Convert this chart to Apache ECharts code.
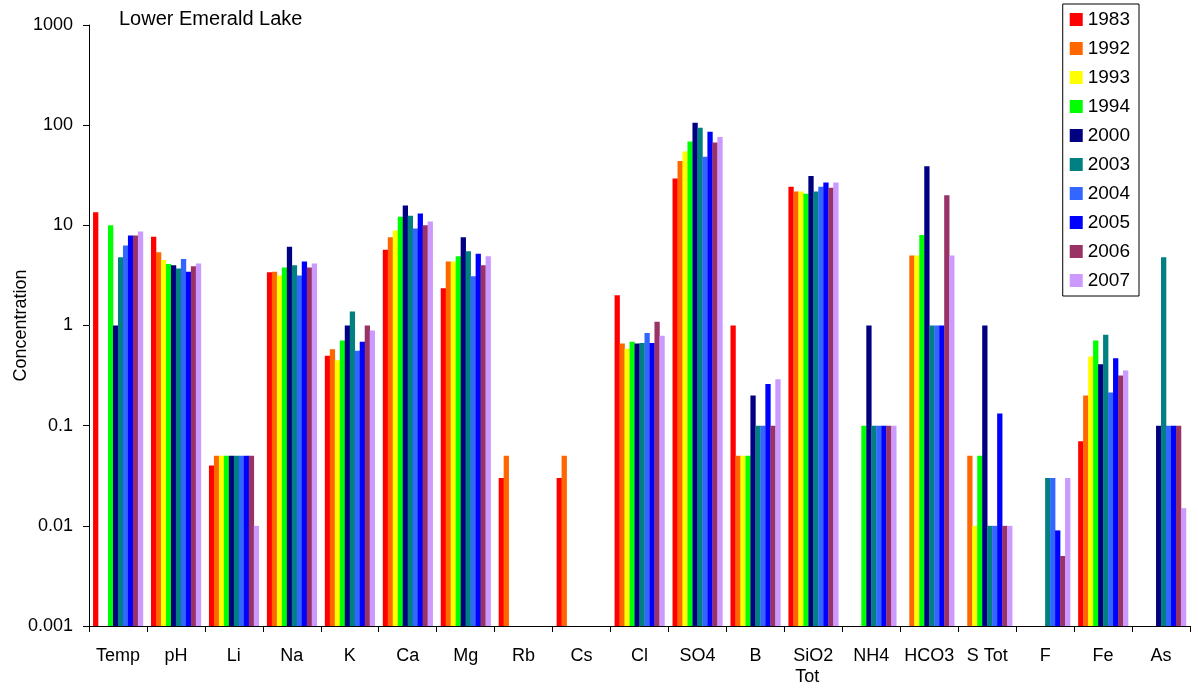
<!DOCTYPE html>
<html><head><meta charset="utf-8">
<script src="https://cdn.jsdelivr.net/npm/echarts@6/dist/echarts.min.js"></script>
<style>html,body{margin:0;padding:0;background:#fff}#c{width:1198px;height:691px}</style>
</head><body><div id="c"></div>
<script>
const categories = ['Temp','pH','Li','Na','K','Ca','Mg','Rb','Cs','Cl','SO4','B','SiO2\nTot','NH4','HCO3','S Tot','F','Fe','As'];
const years = ['1983','1992','1993','1994','2000','2003','2004','2005','2006','2007'];
const colors = ['#FF0000','#FF6600','#FFFF00','#00FF00','#000080','#008080','#3366FF','#0000FF','#993366','#CC99FF'];
const yTicks = [0.001,0.01,0.1,1,10,100,1000];
// values per year, in category order (null = no bar)
const v1983 = [13.5,7.7,0.04,3.4,0.5,5.7,2.35,0.03,0.03,2.0,29.4,1.0,24.3,null,null,null,null,0.07,null];
const v1992 = [null,5.4,0.05,3.45,0.58,7.6,4.35,0.05,0.05,0.66,44,0.05,21.8,null,5,0.05,null,0.2,null];
const v1993 = [null,4.5,0.05,3.15,0.45,8.9,4.35,null,null,0.585,54.5,0.05,21.8,null,5,0.01,null,0.49,null];
const v1994 = [10,4.1,0.05,3.8,0.71,12.2,4.9,null,null,0.69,68.6,0.05,20.7,0.1,8,0.05,null,0.71,null];
const v2000 = [1.0,4.0,0.05,6.1,1.0,15.8,7.6,null,null,0.66,106,0.2,31,1.0,39,1.0,null,0.41,0.1];
const v2003 = [4.8,3.7,0.05,4.0,1.38,12.5,5.5,null,null,0.67,94.5,0.1,21.8,0.1,1,0.01,0.03,0.81,4.8];
const v2004 = [6.3,4.6,0.05,3.15,0.56,9.3,3.1,null,null,0.84,48.4,0.1,24.3,0.1,1,0.01,0.03,0.214,0.1];
const v2005 = [7.9,3.45,0.05,4.35,0.69,13.1,5.2,null,null,0.67,86,0.26,26.7,0.1,1,0.132,0.009,0.47,0.1];
const v2006 = [7.9,3.9,0.05,3.8,1.0,10,4.0,null,null,1.09,67,0.1,23.7,0.1,20,0.01,0.005,0.317,0.1];
const v2007 = [8.7,4.15,0.01,4.15,0.89,10.9,4.9,null,null,0.79,76,0.29,26.7,0.1,5,0.01,0.03,0.356,0.015];
const seriesValues = [v1983,v1992,v1993,v1994,v2000,v2003,v2004,v2005,v2006,v2007];

const nSeries = years.length;
const groupFrac = 0.86;
const yMin = yTicks[0];
function makeRender(si){
  return function(params, api){
    const cs = params.coordSys;
    const band = cs.width / categories.length;
    const bw = band * groupFrac / nSeries;
    const top = api.coord([api.value(0), api.value(1)]);
    const base = api.coord([api.value(0), yMin]);
    const x0 = top[0] - band*groupFrac/2 + si*bw;
    return {type:'rect', shape:{x:x0, y:top[1], width:bw+0.3, height:base[1]-top[1]},
            style:{fill:colors[si]}};
  };
}

const chart = echarts.init(document.getElementById('c'), null, {renderer:'canvas'});
const font = 'Liberation Sans, Arial, sans-serif';
chart.setOption({
  animation:false,
  backgroundColor:'#fff',
  title:{text:'Lower Emerald Lake', left:119, top:9, padding:0, textStyle:{fontFamily:font, fontSize:20, fontWeight:'normal', color:'#000'}},
  legend:{
    orient:'vertical', right:59, top:4,
    itemWidth:13, itemHeight:13, itemGap:10,
    padding:[6,9,6,7],
    borderColor:'#000', borderWidth:1,
    icon:'rect',
    textStyle:{fontFamily:font, fontSize:19, color:'#000'},
    data:years
  },
  grid:{left:89, right:8, top:25, bottom:65, containLabel:false, outerBoundsMode:'none'},
  xAxis:{
    type:'category', data:categories,
    axisLine:{lineStyle:{color:'#000', width:1}},
    axisTick:{show:true, length:6, lineStyle:{color:'#000'}},
    axisLabel:{fontFamily:font, fontSize:18, color:'#000', margin:20, interval:0, lineHeight:21,
      formatter:function(v){ if(v.indexOf('\n')>=0){ const p=v.split('\n'); return p[0]+'\n{b|'+p[1]+'}'; } return v; },
      rich:{b:{fontFamily:font, fontSize:18, color:'#000', lineHeight:21, padding:[0,12,0,0]}}}
  },
  yAxis:{
    type:'log', logBase:10, min:yTicks[0], max:yTicks[yTicks.length-1],
    name:'Concentration', nameLocation:'middle', nameGap:59, nameRotate:90, nameMoveOverlap:false,
    nameTextStyle:{fontFamily:font, fontSize:18, color:'#000'},
    axisLine:{show:true, lineStyle:{color:'#000', width:1}},
    axisTick:{show:true, length:6, lineStyle:{color:'#000'}},
    minorTick:{show:false},
    splitLine:{show:false},
    axisLabel:{fontFamily:font, fontSize:18, color:'#000', margin:16,
      formatter:function(v){ for(const t of yTicks){ if(Math.abs(v-t)/t<1e-6) return String(t);} return ''; }}
  },
  series: years.map((y,i)=>({
    name:y, type:'custom',
    renderItem:makeRender(i),
    encode:{x:0, y:1},
    itemStyle:{color:colors[i]},
    data: seriesValues[i].map((v,k)=>[k,v]).filter(d=>d[1]!=null)
  }))
});
</script></body></html>
